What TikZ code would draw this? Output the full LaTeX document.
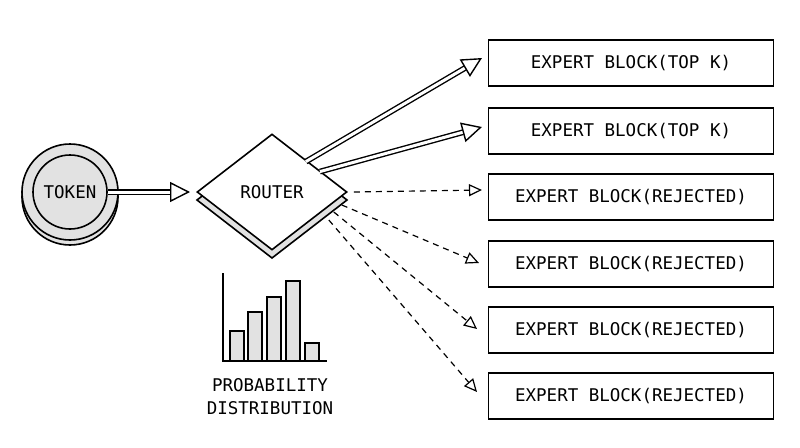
\documentclass[tikz,border=0pt]{standalone}
\usepackage{fontspec}
\setmainfont{DejaVu Sans Mono}
\usetikzlibrary{arrows.meta,shapes.geometric}
\definecolor{fillgray}{RGB}{226,226,226}
\tikzset{
  every picture/.style={line width=1.6pt},
  block/.style={draw, minimum width=285pt, minimum height=46pt, font=\fontsize{17.5}{20}\selectfont},
  strong/.style={double distance=3pt, line width=1.4pt, -{Triangle[open,length=20pt,width=20pt,line width=1.4pt]}},
  weak/.style={dash pattern=on 6pt off 5pt, line width=1.2pt, -{Triangle[open,length=13pt,width=12pt,line width=1.2pt]}},
  bar/.style={draw, fill=fillgray}
}
\begin{document}
\begin{tikzpicture}[x=1pt, y=-1pt]
    \useasboundingbox (0,0) rectangle (800,447);
    % token
    \draw[fill=fillgray] (70,197) circle (48);
    \draw[fill=fillgray] (70,192) circle (48);
    \node[circle, draw, fill=fillgray, minimum size=74pt, inner sep=0, font=\fontsize{17.5}{20}\selectfont] (token) at (70,192) {TOKEN};
    % router
    \draw[fill=fillgray] (197,200) -- (272,142) -- (347,200) -- (272,258) -- cycle;
    \node[diamond, draw, fill=white, minimum width=150pt, minimum height=116pt, inner sep=0, aspect=1.3, font=\fontsize{17.5}{20}\selectfont] (router) at (272,192) {ROUTER};
    % experts
    \node[block] (e1) at (631,63) {EXPERT BLOCK(TOP K)};
    \node[block] (e2) at (631,131) {EXPERT BLOCK(TOP K)};
    \node[block] (e3) at (631,197) {EXPERT BLOCK(REJECTED)};
    \node[block] (e4) at (631,264) {EXPERT BLOCK(REJECTED)};
    \node[block] (e5) at (631,330) {EXPERT BLOCK(REJECTED)};
    \node[block] (e6) at (631,396) {EXPERT BLOCK(REJECTED)};
    \coordinate (a1) at (482,58);
    \coordinate (a2) at (482,127);
    \coordinate (a3) at (482,190);
    \coordinate (a4) at (479,263);
    \coordinate (a5) at (477,329);
    \coordinate (a6) at (477,392);
    % links
    \draw[strong] (token) -- (190,192);
    \draw[strong] (router.north east) ++(-4,-1) coordinate (r1) -- (a1);
    \draw[strong] (router.north east) ++(10,9) coordinate (r2) -- (a2);
    \draw[weak] (router.east) ++(6,0) coordinate (r3) -- (a3);
    \draw[weak] (router.east) ++(-6,13) coordinate (r4) -- (a4);
    \draw[weak] (router.east) ++(-14,20) coordinate (r5) -- (a5);
    \draw[weak] (router.east) ++(-19,28) coordinate (r6) -- (a6);
    % distribution
    \draw[bar] (230,361) rectangle (244,331);
    \draw[bar] (248,361) rectangle (262,312);
    \draw[bar] (267,361) rectangle (281,297);
    \draw[bar] (286,361) rectangle (300,281);
    \draw[bar] (305,361) rectangle (319,343);
    \draw (223,273) -- (223,361) -- (327,361);
    \node[align=center, font=\fontsize{17.5}{23}\selectfont] (dist) at (270,397) {PROBABILITY\\DISTRIBUTION};
\end{tikzpicture}
\end{document}
